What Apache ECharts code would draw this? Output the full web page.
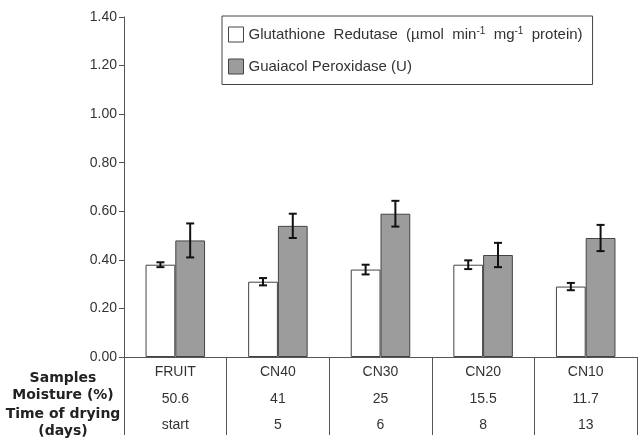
<!DOCTYPE html>
<html>
<head>
<meta charset="utf-8">
<script src="https://cdn.jsdelivr.net/npm/echarts@6/dist/echarts.min.js"></script>
<style>html,body{margin:0;padding:0;background:#fff}#c{width:638px;height:439px}</style>
</head>
<body>
<div id="c"></div>
<script>
const samples = ['FRUIT', 'CN40', 'CN30', 'CN20', 'CN10'];
const moisture = ['50.6', '41', '25', '15.5', '11.7'];
const dryingDays = ['start', '5', '6', '8', '13'];
const glutathione = [0.38, 0.31, 0.36, 0.38, 0.29];
const glutathioneErr = [0.01, 0.015, 0.02, 0.018, 0.015];
const guaiacol = [0.48, 0.54, 0.59, 0.42, 0.49];
const guaiacolErr = [0.07, 0.05, 0.053, 0.05, 0.054];
const yTicks = [0, 0.2, 0.4, 0.6, 0.8, 1.0, 1.2, 1.4];
const rowLabels = ['Samples', 'Moisture (%)', 'Time of drying', '(days)'];

const chart = echarts.init(document.getElementById('c'));
const BAR_FRAC = 0.29;
const FONT = 'Liberation Sans';

function errSeries(vals, errs, side) {
  return {
    type: 'custom',
    silent: true,
    z: 10,
    data: vals.map((v, i) => [i, v, errs[i]]),
    renderItem: function (params, api) {
      const idx = api.value(0), v = api.value(1), e = api.value(2);
      const catW = api.size([1, 0])[0];
      const off = side * catW * BAR_FRAC / 2;
      const t = api.coord([idx, v + e]);
      const b = api.coord([idx, v - e]);
      const x = t[0] + off;
      const w = 4;
      const st = { stroke: '#111', lineWidth: 2 };
      return {
        type: 'group',
        children: [
          { type: 'line', shape: { x1: x, y1: t[1], x2: x, y2: b[1] }, style: st },
          { type: 'line', shape: { x1: x - w, y1: t[1], x2: x + w, y2: t[1] }, style: st },
          { type: 'line', shape: { x1: x - w, y1: b[1], x2: x + w, y2: b[1] }, style: st }
        ]
      };
    }
  };
}

const option = {
  animation: false,
  backgroundColor: '#fff',
  grid: { left: 124, right: 1, top: 17, bottom: 82 },
  legend: {
    orient: 'vertical',
    left: 222,
    top: 16,
    padding: [10, 10, 10, 6],
    itemGap: 16,
    itemWidth: 15,
    itemHeight: 15,
    itemTextGap: 15,
    borderColor: '#444',
    borderWidth: 1,
    data: [
      { name: 'Glutathione Redutase', icon: 'rect', itemStyle: { color: '#fff', borderColor: '#444', borderWidth: 1 } },
      { name: 'Guaiacol Peroxidase (U)', icon: 'rect', itemStyle: { color: '#9c9c9c', borderColor: '#444', borderWidth: 1 } }
    ],
    formatter: function (name) {
      if (name === 'Glutathione Redutase') {
        return '{t|Glutathione  Redutase  (µmol  min}{s|-1}{t|  mg}{s|-1}{t|  protein)}';
      }
      return '{t|' + name + '}';
    },
    textStyle: {
      rich: {
        t: { fontFamily: FONT, fontSize: 15, color: '#333' },
        s: { fontFamily: FONT, fontSize: 10, color: '#333', padding: [0, 0, 7, 0] }
      }
    }
  },
  xAxis: {
    type: 'category',
    data: samples,
    axisLine: { lineStyle: { color: '#555', width: 1 } },
    axisTick: { show: true, alignWithLabel: false, interval: 0, length: 78, lineStyle: { color: '#555' } },
    axisLabel: {
      interval: 0,
      margin: 2,
      formatter: function (v, i) {
        return v + '\n' + moisture[i] + '\n' + dryingDays[i];
      },
      fontFamily: FONT,
      fontSize: 14,
      lineHeight: 26.5,
      color: '#333'
    }
  },
  yAxis: {
    type: 'value',
    min: 0,
    max: 1.4,
    interval: 0.2,
    splitLine: { show: false },
    axisLine: { show: true, lineStyle: { color: '#555' } },
    axisTick: { show: true, length: 5, lineStyle: { color: '#555' } },
    axisLabel: {
      margin: 7,
      fontFamily: FONT,
      fontSize: 14,
      color: '#333',
      formatter: function (v) {
        const t = yTicks.find(x => Math.abs(x - v) < 1e-6);
        return (t === undefined ? v : t).toFixed(2);
      }
    }
  },
  series: [
    {
      name: 'Glutathione Redutase',
      type: 'bar',
      data: glutathione,
      barWidth: (BAR_FRAC * 100) + '%',
      barGap: '0%',
      itemStyle: { color: '#fff', borderColor: '#444', borderWidth: 1 }
    },
    {
      name: 'Guaiacol Peroxidase (U)',
      type: 'bar',
      data: guaiacol,
      barWidth: (BAR_FRAC * 100) + '%',
      barGap: '0%',
      itemStyle: { color: '#9c9c9c', borderColor: '#444', borderWidth: 1 }
    },
    errSeries(glutathione, glutathioneErr, -1),
    errSeries(guaiacol, guaiacolErr, 1)
  ],
  graphic: rowLabels.map((txt, i) => ({
    type: 'text',
    x: 63,
    y: [378, 395, 414, 431][i],
    style: {
      text: txt,
      fontFamily: 'DejaVu Sans',
      fontWeight: 'bold',
      fontSize: 14,
      fill: '#222',
      textAlign: 'center',
      textVerticalAlign: 'middle'
    }
  }))
};
chart.setOption(option);
</script>
</body>
</html>
